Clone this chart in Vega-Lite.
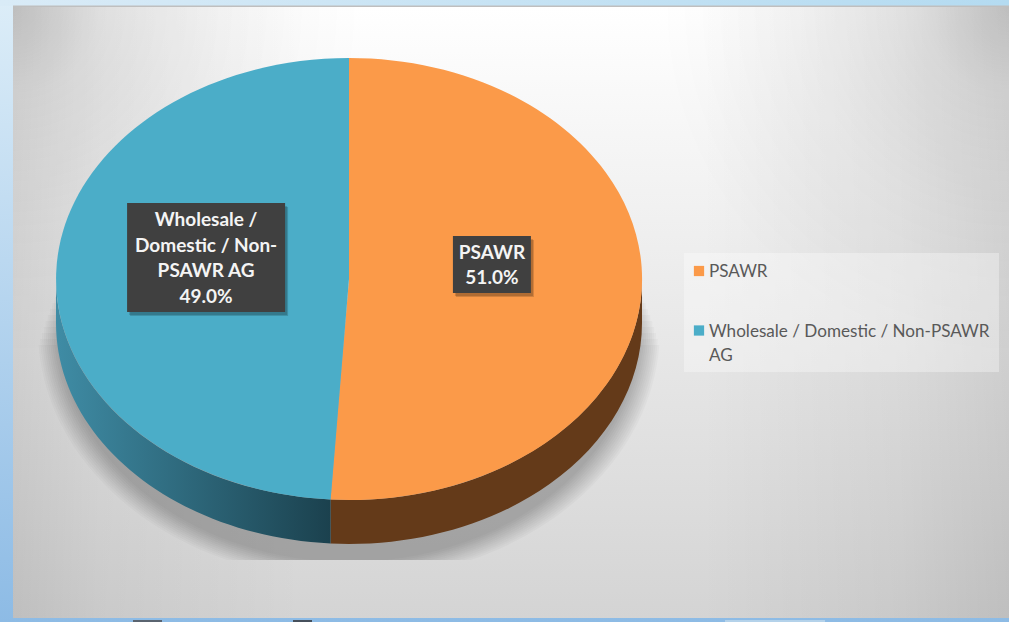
{
  "$schema": "https://vega.github.io/schema/vega-lite/v6.json",
  "width": 1009,
  "height": 622,
  "autosize": "none",
  "padding": 0,
  "background": "#b8d8f0",
  "config": {"view": {"stroke": null}, "axis": {"disable": true}},
  "params": [
    {"name": "cx", "value": 349},
    {"name": "cy", "value": 279},
    {"name": "rx", "value": 293},
    {"name": "ry", "value": 221},
    {"name": "depth", "value": 44}
  ],
  "datasets": {
    "slices": [
      {"slice": "PSAWR", "share": 51.0, "lines": ["PSAWR", "51.0%"], "legendLines": ["PSAWR"]},
      {"slice": "Wholesale / Domestic / Non-PSAWR AG", "share": 49.0, "lines": ["Wholesale /", "Domestic / Non-", "PSAWR AG", "49.0%"], "legendLines": ["Wholesale / Domestic / Non-PSAWR", "AG"]}
    ],
    "rings": [{"k": 0}, {"k": 0.1}, {"k": 0.2}, {"k": 0.3}, {"k": 0.4}, {"k": 0.5}, {"k": 0.6}, {"k": 0.7}, {"k": 0.8}, {"k": 0.9}, {"k": 1}]
  },
  "layer": [
    {
      "description": "Slide backdrop",
      "data": {"values": [{"part": "slide"}]},
      "mark": {"type": "rect", "fill": {"gradient": "linear", "x1": 0, "y1": 0, "x2": 0, "y2": 1, "stops": [{"offset": 0, "color": "#dcedf8"}, {"offset": 1, "color": "#8dbbe5"}]}},
      "encoding": {
        "x": {"datum": 0, "type": "quantitative", "scale": {"domain": [0, 1009], "nice": false, "zero": false}},
        "x2": {"datum": 1009},
        "y": {"datum": 0, "type": "quantitative", "scale": {"domain": [0, 622], "reverse": true, "nice": false, "zero": false}},
        "y2": {"datum": 622}
      }
    },
    {
      "description": "Top strip of the slide",
      "data": {"values": [{"part": "top"}]},
      "mark": {"type": "rect", "fill": {"gradient": "linear", "x1": 0, "y1": 0, "x2": 1, "y2": 0, "stops": [{"offset": 0, "color": "#d9ebf7"}, {"offset": 1, "color": "#b4dbf1"}]}},
      "encoding": {"x": {"datum": 0, "type": "quantitative"}, "x2": {"datum": 1009}, "y": {"datum": 0, "type": "quantitative"}, "y2": {"datum": 6}}
    },
    {
      "description": "Chart panel, light towards the top",
      "data": {"values": [{"part": "panel"}]},
      "mark": {"type": "rect", "fill": {"gradient": "linear", "x1": 0, "y1": 0, "x2": 0, "y2": 1, "stops": [{"offset": 0, "color": "#ffffff"}, {"offset": 1, "color": "#d4d4d4"}]}},
      "encoding": {"x": {"datum": 13, "type": "quantitative"}, "x2": {"datum": 1009}, "y": {"datum": 7, "type": "quantitative"}, "y2": {"datum": 618}}
    },
    {
      "description": "Side darkening of the panel",
      "data": {"values": [{"part": "edges"}]},
      "mark": {"type": "rect", "fill": {"gradient": "linear", "x1": 0, "y1": 0, "x2": 1, "y2": 0, "stops": [{"offset": 0, "color": "rgba(0,0,0,0.10)"}, {"offset": 0.087, "color": "rgba(0,0,0,0.05)"}, {"offset": 0.29, "color": "rgba(0,0,0,0)"}, {"offset": 0.69, "color": "rgba(0,0,0,0)"}, {"offset": 0.89, "color": "rgba(0,0,0,0.05)"}, {"offset": 1, "color": "rgba(0,0,0,0.10)"}]}},
      "encoding": {"x": {"datum": 13, "type": "quantitative"}, "x2": {"datum": 1009}, "y": {"datum": 7, "type": "quantitative"}, "y2": {"datum": 618}}
    },
    {
      "description": "Top left corner shade",
      "data": {"values": [{"part": "cornerLeft"}]},
      "mark": {"type": "rect", "fill": {"gradient": "radial", "x1": 0, "y1": 0, "r1": 0, "x2": 0, "y2": 0, "r2": 1, "stops": [{"offset": 0, "color": "rgba(0,0,0,0.17)"}, {"offset": 0.25, "color": "rgba(0,0,0,0.08)"}, {"offset": 0.6, "color": "rgba(0,0,0,0.03)"}, {"offset": 1, "color": "rgba(0,0,0,0)"}]}},
      "encoding": {"x": {"datum": 13, "type": "quantitative"}, "x2": {"datum": 363}, "y": {"datum": 7, "type": "quantitative"}, "y2": {"datum": 357}}
    },
    {
      "description": "Top right corner shade",
      "data": {"values": [{"part": "cornerRight"}]},
      "mark": {"type": "rect", "fill": {"gradient": "radial", "x1": 1, "y1": 0, "r1": 0, "x2": 1, "y2": 0, "r2": 1, "stops": [{"offset": 0, "color": "rgba(0,0,0,0.17)"}, {"offset": 0.25, "color": "rgba(0,0,0,0.08)"}, {"offset": 0.6, "color": "rgba(0,0,0,0.03)"}, {"offset": 1, "color": "rgba(0,0,0,0)"}]}},
      "encoding": {"x": {"datum": 659, "type": "quantitative"}, "x2": {"datum": 1009}, "y": {"datum": 7, "type": "quantitative"}, "y2": {"datum": 357}}
    },
    {
      "description": "Panel top border",
      "data": {"values": [{"part": "border"}]},
      "mark": {"type": "rect", "fill": "#bfbfbf"},
      "encoding": {"x": {"datum": 13, "type": "quantitative"}, "x2": {"datum": 1009}, "y": {"datum": 5.5, "type": "quantitative"}, "y2": {"datum": 7}}
    },
    {
      "description": "Objects peeking out below the panel",
      "data": {"values": [{"part": "peekA"}]},
      "mark": {"type": "rect", "fill": "#5a6470"},
      "encoding": {"x": {"datum": 133, "type": "quantitative"}, "x2": {"datum": 162}, "y": {"datum": 620, "type": "quantitative"}, "y2": {"datum": 622}}
    },
    {
      "data": {"values": [{"part": "peekB"}]},
      "mark": {"type": "rect", "fill": "#46505c"},
      "encoding": {"x": {"datum": 293, "type": "quantitative"}, "x2": {"datum": 312}, "y": {"datum": 620, "type": "quantitative"}, "y2": {"datum": 622}}
    },
    {
      "data": {"values": [{"part": "peekC"}]},
      "mark": {"type": "rect", "fill": "#b4d2ea"},
      "encoding": {"x": {"datum": 725, "type": "quantitative"}, "x2": {"datum": 825}, "y": {"datum": 620, "type": "quantitative"}, "y2": {"datum": 622}}
    },
    {
      "description": "Soft floor shadow under the pie, built from stacked translucent rings, flat along the bottom and tapering upward",
      "data": {"name": "rings"},
      "transform": [
        {"calculate": "292 + 19 * datum.k", "as": "srx"},
        {"calculate": "240 + 10 * datum.k", "as": "sry"},
        {"calculate": "322 + 8 * datum.k", "as": "scy"},
        {"calculate": "560 - datum.scy", "as": "db"},
        {"calculate": "datum.scy - (285 + 60 * datum.k)", "as": "dt"},
        {"calculate": "round(datum.srx * sqrt(1 - pow(datum.db / datum.sry, 2)) * 100) / 100", "as": "xb"},
        {"calculate": "round(datum.srx * sqrt(1 - pow(datum.dt / datum.sry, 2)) * 100) / 100", "as": "xt"},
        {"calculate": "'M' + (-datum.xt) + ',' + (-datum.dt) + 'L' + datum.xt + ',' + (-datum.dt) + 'A' + datum.srx + ',' + datum.sry + ' 0 0 1 ' + datum.xb + ',' + datum.db + 'L' + (-datum.xb) + ',' + datum.db + 'A' + datum.srx + ',' + datum.sry + ' 0 0 1 ' + (-datum.xt) + ',' + (-datum.dt) + 'Z'", "as": "outline"},
        {"calculate": "cx", "as": "px"}
      ],
      "mark": {"type": "point", "filled": true, "fill": "#000000", "opacity": 0.022, "size": 4, "stroke": null},
      "encoding": {
        "x": {"field": "px", "type": "quantitative"},
        "y": {"field": "scy", "type": "quantitative"},
        "shape": {"field": "outline", "type": "nominal", "scale": null}
      }
    },
    {
      "description": "Pie side wall, PSAWR",
      "data": {"name": "slices"},
      "transform": [
        {"stack": "share", "groupby": [], "as": ["s0", "s1"]},
        {"calculate": "max(datum.s0 / 100, 0.25)", "as": "b0"},
        {"calculate": "min(datum.s1 / 100, 0.75)", "as": "b1"},
        {"calculate": "round(rx * sin(2 * PI * datum.b0) * 100) / 100", "as": "x0"},
        {"calculate": "round(-ry * cos(2 * PI * datum.b0) * 100) / 100", "as": "y0"},
        {"calculate": "round(rx * sin(2 * PI * datum.b1) * 100) / 100", "as": "x1"},
        {"calculate": "round(-ry * cos(2 * PI * datum.b1) * 100) / 100", "as": "y1"},
        {"calculate": "'M' + datum.x0 + ',' + datum.y0 + 'A' + rx + ',' + ry + ' 0 0 1 ' + datum.x1 + ',' + datum.y1 + 'L' + datum.x1 + ',' + (datum.y1 + depth) + 'A' + rx + ',' + ry + ' 0 0 0 ' + datum.x0 + ',' + (datum.y0 + depth) + 'Z'", "as": "wall"},
        {"calculate": "cx", "as": "px"},
        {"calculate": "cy", "as": "py"},
        {"filter": "datum.slice === 'PSAWR'"}
      ],
      "mark": {"type": "point", "filled": true, "fill": "#643a19", "opacity": 1, "size": 4, "stroke": null},
      "encoding": {
        "x": {"field": "px", "type": "quantitative"},
        "y": {"field": "py", "type": "quantitative"},
        "shape": {"field": "wall", "type": "nominal", "scale": null}
      }
    },
    {
      "description": "Pie side wall, wholesale share",
      "data": {"name": "slices"},
      "transform": [
        {"stack": "share", "groupby": [], "as": ["s0", "s1"]},
        {"calculate": "max(datum.s0 / 100, 0.25)", "as": "b0"},
        {"calculate": "min(datum.s1 / 100, 0.75)", "as": "b1"},
        {"calculate": "round(rx * sin(2 * PI * datum.b0) * 100) / 100", "as": "x0"},
        {"calculate": "round(-ry * cos(2 * PI * datum.b0) * 100) / 100", "as": "y0"},
        {"calculate": "round(rx * sin(2 * PI * datum.b1) * 100) / 100", "as": "x1"},
        {"calculate": "round(-ry * cos(2 * PI * datum.b1) * 100) / 100", "as": "y1"},
        {"calculate": "'M' + datum.x0 + ',' + datum.y0 + 'A' + rx + ',' + ry + ' 0 0 1 ' + datum.x1 + ',' + datum.y1 + 'L' + datum.x1 + ',' + (datum.y1 + depth) + 'A' + rx + ',' + ry + ' 0 0 0 ' + datum.x0 + ',' + (datum.y0 + depth) + 'Z'", "as": "wall"},
        {"calculate": "cx", "as": "px"},
        {"calculate": "cy", "as": "py"},
        {"filter": "datum.slice !== 'PSAWR'"}
      ],
      "mark": {"type": "point", "filled": true, "opacity": 1, "size": 4, "stroke": null, "fill": {"gradient": "linear", "x1": 0, "y1": 0, "x2": 1, "y2": 0, "stops": [{"offset": 0, "color": "#3f8ca5"}, {"offset": 1, "color": "#1b414e"}]}},
      "encoding": {
        "x": {"field": "px", "type": "quantitative"},
        "y": {"field": "py", "type": "quantitative"},
        "shape": {"field": "wall", "type": "nominal", "scale": null}
      }
    },
    {
      "description": "Pie top face: one wedge per slice, swept from its share",
      "data": {"name": "slices"},
      "transform": [
        {"stack": "share", "groupby": [], "as": ["s0", "s1"]},
        {"calculate": "datum.s0 / 100", "as": "a0"},
        {"calculate": "datum.s1 / 100", "as": "a1"},
        {"calculate": "round(rx * sin(2 * PI * datum.a0) * 100) / 100", "as": "x0"},
        {"calculate": "round(-ry * cos(2 * PI * datum.a0) * 100) / 100", "as": "y0"},
        {"calculate": "round(rx * sin(2 * PI * datum.a1) * 100) / 100", "as": "x1"},
        {"calculate": "round(-ry * cos(2 * PI * datum.a1) * 100) / 100", "as": "y1"},
        {"calculate": "'M0,0L' + datum.x0 + ',' + datum.y0 + 'A' + rx + ',' + ry + ' 0 ' + (datum.a1 - datum.a0 > 0.5 ? 1 : 0) + ' 1 ' + datum.x1 + ',' + datum.y1 + 'Z'", "as": "wedge"},
        {"calculate": "cx", "as": "px"},
        {"calculate": "cy", "as": "py"}
      ],
      "mark": {"type": "point", "filled": true, "opacity": 1, "size": 4, "stroke": null},
      "encoding": {
        "x": {"field": "px", "type": "quantitative"},
        "y": {"field": "py", "type": "quantitative"},
        "shape": {"field": "wedge", "type": "nominal", "scale": null},
        "fill": {"field": "slice", "type": "nominal", "legend": null, "scale": {"domain": ["PSAWR", "Wholesale / Domestic / Non-PSAWR AG"], "range": ["#fb9a49", "#4badc8"]}}
      }
    },
    {
      "description": "Data label callouts: shadow, box and text, centred on each slice's mid angle",
      "data": {"name": "slices"},
      "transform": [
        {"stack": "share", "groupby": [], "as": ["s0", "s1"]},
        {"calculate": "(datum.s0 + datum.s1) / 200", "as": "mid"},
        {"calculate": "cx + 0.488 * rx * sin(2 * PI * datum.mid)", "as": "lx"},
        {"calculate": "cy - 0.488 * ry * cos(2 * PI * datum.mid) - 18", "as": "ly"},
        {"calculate": "datum.ly - (length(datum.lines) - 1) * 12.8", "as": "firstLine"}
      ],
      "encoding": {
        "x": {"field": "lx", "type": "quantitative"}
      },
      "layer": [
        {
          "mark": {"type": "point", "filled": true, "fill": "#000000", "opacity": 0.16, "size": 4, "stroke": null, "xOffset": 3, "yOffset": 4},
          "encoding": {
            "y": {"field": "ly", "type": "quantitative"},
            "shape": {"field": "slice", "type": "nominal", "legend": null, "scale": {"domain": ["PSAWR", "Wholesale / Domestic / Non-PSAWR AG"], "range": ["M-39,-28.5H39V28.5H-39Z", "M-79,-54.5H79V54.5H-79Z"]}}
          }
        },
        {
          "mark": {"type": "point", "filled": true, "fill": "#000000", "opacity": 0.16, "size": 4, "stroke": null, "xOffset": 2, "yOffset": 3},
          "encoding": {
            "y": {"field": "ly", "type": "quantitative"},
            "shape": {"field": "slice", "type": "nominal", "legend": null}
          }
        },
        {
          "mark": {"type": "point", "filled": true, "fill": "#404040", "opacity": 1, "size": 4, "stroke": null},
          "encoding": {
            "y": {"field": "ly", "type": "quantitative"},
            "shape": {"field": "slice", "type": "nominal", "legend": null}
          }
        },
        {
          "mark": {"type": "text", "font": "Lato", "fontWeight": "bold", "fontSize": 19, "lineHeight": 25.6, "color": "#f4f4f4", "align": "center", "baseline": "middle", "dy": 1},
          "encoding": {
            "y": {"field": "firstLine", "type": "quantitative"},
            "text": {"field": "lines"}
          }
        }
      ]
    },
    {
      "description": "Legend backing box",
      "data": {"values": [{"part": "legendBox"}]},
      "mark": {"type": "rect", "fill": "#ffffff", "opacity": 0.33},
      "encoding": {"x": {"datum": 684, "type": "quantitative"}, "x2": {"datum": 999}, "y": {"datum": 253, "type": "quantitative"}, "y2": {"datum": 372}}
    },
    {
      "description": "Legend entries",
      "data": {"name": "slices"},
      "transform": [
        {"calculate": "datum.slice === 'PSAWR' ? 271 : 330.5", "as": "entryY"}
      ],
      "encoding": {"y": {"field": "entryY", "type": "quantitative"}},
      "layer": [
        {
          "transform": [{"calculate": "699", "as": "swatchX"}],
          "mark": {"type": "point", "shape": "square", "filled": true, "opacity": 1, "size": 105, "stroke": null},
          "encoding": {
            "x": {"field": "swatchX", "type": "quantitative"},
            "fill": {"field": "slice", "type": "nominal", "legend": null}
          }
        },
        {
          "transform": [{"calculate": "709", "as": "textX"}],
          "mark": {"type": "text", "font": "Lato", "fontSize": 17.1, "lineHeight": 24, "color": "#595959", "align": "left", "baseline": "middle", "dy": 1},
          "encoding": {
            "x": {"field": "textX", "type": "quantitative"},
            "text": {"field": "legendLines"}
          }
        }
      ]
    }
  ]
}
